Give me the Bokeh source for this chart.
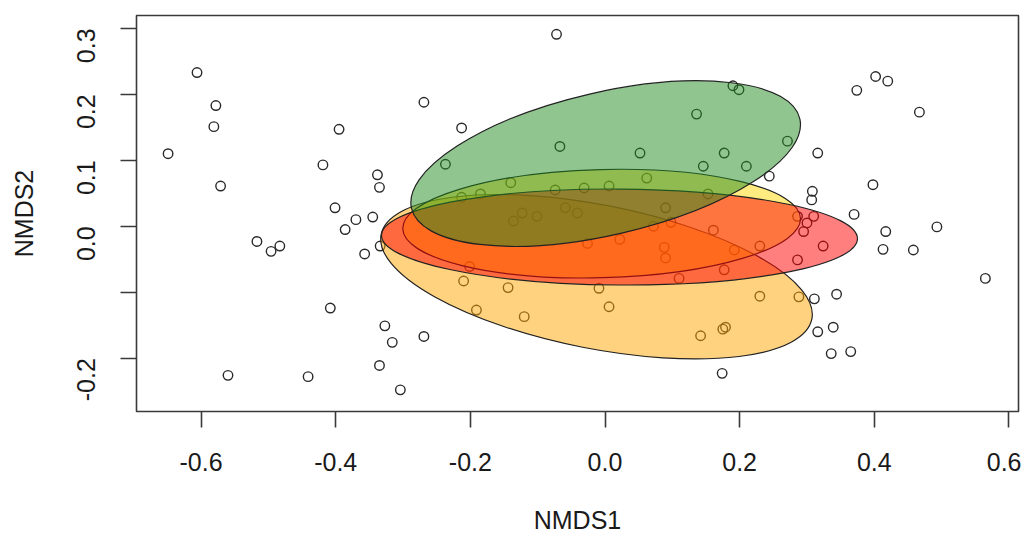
from math import pi
from bokeh.plotting import figure
from bokeh.models import Range1d, FixedTicker, ColumnDataSource
from bokeh.embed import file_html
from bokeh.resources import INLINE

# --- site scores (NMDS1, NMDS2) ---
nmds1 = [-0.072, -0.606, -0.578, -0.581, -0.649, -0.571, -0.269, -0.395, -0.213, -0.067,
         -0.419, -0.237, -0.338, -0.335, -0.401, -0.370, -0.345, -0.386, -0.334, -0.357,
         -0.517, -0.496, -0.483, -0.140, -0.185, -0.213, -0.074, -0.059, -0.041, -0.123,
         -0.136, -0.101, -0.201, -0.210, -0.144, -0.191, -0.120, -0.408, -0.327, -0.316,
         -0.269, -0.335, -0.560, -0.441, -0.304, 0.402, 0.420, 0.374, 0.467, 0.190,
         0.199, 0.136, 0.271, 0.316, 0.052, 0.177, 0.146, 0.210, 0.244, 0.398,
         0.308, 0.307, 0.062, 0.006, -0.031, 0.153, 0.090, 0.370, 0.286, 0.310,
         0.300, 0.295, 0.417, 0.493, 0.413, 0.458, 0.072, 0.098, 0.161, 0.022,
         -0.026, 0.088, 0.090, 0.192, 0.230, 0.324, 0.286, 0.177, 0.110, 0.565,
         -0.009, 0.006, 0.230, 0.288, 0.311, 0.344, 0.316, 0.339, 0.142, 0.175,
         0.179, 0.336, 0.365, 0.174]
nmds2 = [0.291, 0.233, 0.183, 0.151, 0.110, 0.061, 0.188, 0.147, 0.149, 0.121,
         0.093, 0.094, 0.078, 0.059, 0.028, 0.010, 0.014, -0.005, -0.030, -0.042,
         -0.023, -0.038, -0.030, 0.066, 0.049, 0.044, 0.055, 0.028, 0.020, 0.020,
         0.008, 0.015, -0.061, -0.083, -0.093, -0.127, -0.137, -0.124, -0.151, -0.176,
         -0.167, -0.211, -0.226, -0.228, -0.248, 0.227, 0.220, 0.206, 0.173, 0.213,
         0.207, 0.170, 0.129, 0.111, 0.111, 0.111, 0.091, 0.091, 0.076, 0.063,
         0.053, 0.040, 0.073, 0.061, 0.058, 0.049, 0.028, 0.018, 0.015, 0.015,
         0.005, -0.008, -0.008, -0.001, -0.035, -0.036, 0.000, 0.006, -0.006, -0.020,
         -0.026, -0.032, -0.048, -0.036, -0.030, -0.030, -0.051, -0.066, -0.079, -0.079,
         -0.094, -0.122, -0.106, -0.107, -0.110, -0.103, -0.160, -0.153, -0.166, -0.156,
         -0.153, -0.193, -0.190, -0.223]

# --- group ellipses (drawn in this order) ---
ell_group = ["orange", "gold", "red", "green"]
ell_x = [-0.0126, -0.005, 0.0215, 0.001]
ell_y = [-0.0765, 0.004, -0.0163, 0.095]
ell_w = [0.652, 0.591, 0.707, 0.592]
ell_h = [0.218, 0.164, 0.1455, 0.2165]
ell_angle = [-11.1, 1.5, -0.4, 13.0]
ell_fill = ["#FFA500", "#FFD700", "#FF0000", "#228B22"]

# --- axes ---
x_ticks = [-0.6, -0.4, -0.2, 0.0, 0.2, 0.4, 0.6]
x_tick_labels = ["-0.6", "-0.4", "-0.2", "0.0", "0.2", "0.4", "0.6"]
y_ticks = [-0.2, -0.1, 0.0, 0.1, 0.2, 0.3]
y_tick_labels = ["-0.2", "", "0.0", "0.1", "0.2", "0.3"]

FONT = "Liberation Sans"
INK = "#1a1a1a"

p = figure(width=1021, height=536,
           x_range=Range1d(-0.6959, 0.6142), y_range=Range1d(-0.2808, 0.3195),
           output_backend="svg", toolbar_location=None,
           min_border_left=136, min_border_right=3, min_border_top=15, min_border_bottom=117)

p.background_fill_color = "white"
p.border_fill_color = "white"
p.outline_line_color = "#3a3a3a"
p.outline_line_width = 1.6
p.xgrid.visible = False
p.ygrid.visible = False

p.scatter(nmds1, nmds2, marker="circle", size=9.5, fill_color=None,
          line_color="#2a2a2a", line_width=1.4)

src = ColumnDataSource(dict(x=ell_x, y=ell_y, w=ell_w, h=ell_h, a=ell_angle,
                            c=ell_fill, g=ell_group))
p.ellipse(x="x", y="y", width="w", height="h", angle="a", angle_units="deg",
          fill_color="c", fill_alpha=0.5, line_color="#222222", line_width=1.2,
          source=src)

for ax, ticks, labels in ((p.xaxis, x_ticks, x_tick_labels), (p.yaxis, y_ticks, y_tick_labels)):
    ax.ticker = FixedTicker(ticks=ticks)
    ax.major_label_overrides = {t: l for t, l in zip(ticks, labels)}
    ax.minor_tick_line_color = None
    ax.axis_line_color = None
    ax.major_tick_line_color = "#3a3a3a"
    ax.major_tick_line_width = 1.6
    ax.major_tick_in = 0
    ax.major_tick_out = 16
    ax.major_label_text_font = FONT
    ax.major_label_text_font_size = "25px"
    ax.major_label_text_color = INK
    ax.axis_label_text_font = FONT
    ax.axis_label_text_font_size = "25px"
    ax.axis_label_text_font_style = "normal"
    ax.axis_label_text_color = INK

p.xaxis.axis_label = "NMDS1"
p.yaxis.axis_label = "NMDS2"
p.xaxis.major_label_standoff = 25
p.xaxis.axis_label_standoff = 32
p.yaxis.major_label_orientation = pi / 2
p.yaxis.major_label_standoff = 34
p.yaxis.axis_label_standoff = 28

open("out.html", "w").write(file_html(p, INLINE))
